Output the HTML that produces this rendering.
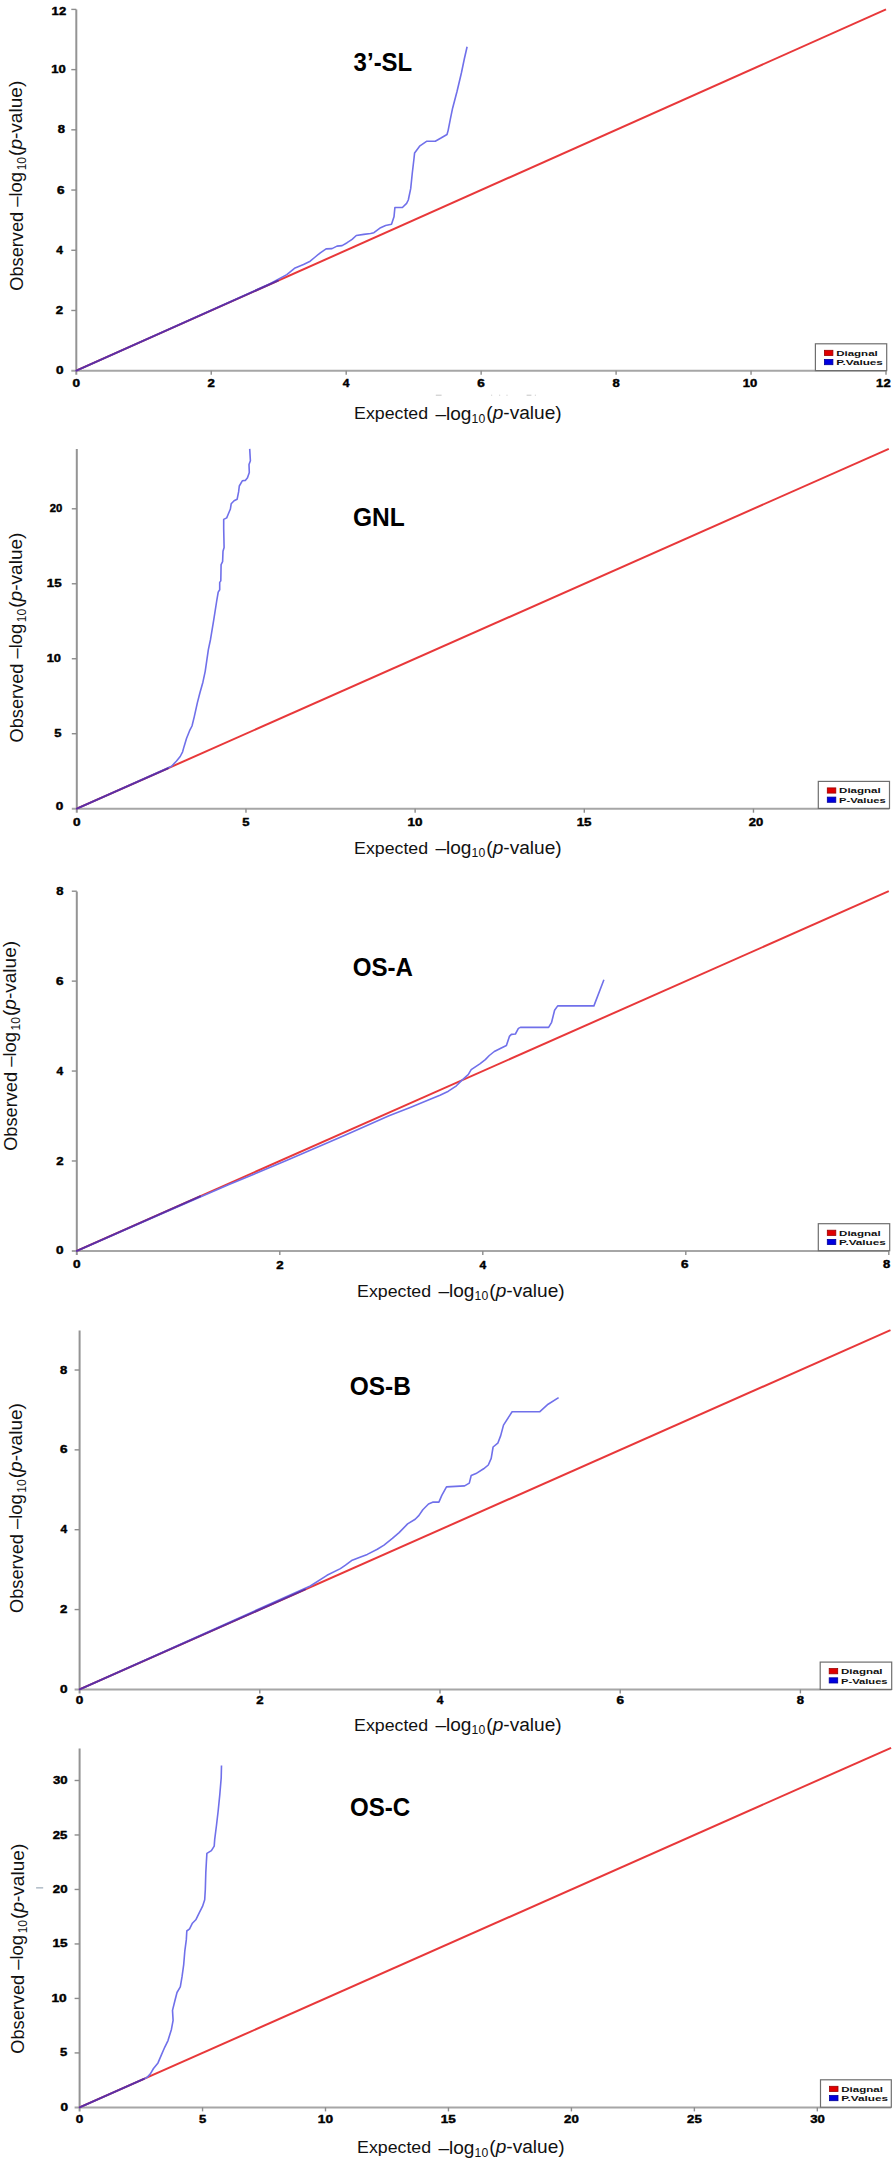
<!DOCTYPE html>
<html><head><meta charset="utf-8"><title>QQ plots</title>
<style>html,body{margin:0;padding:0;background:#fff;} svg{display:block;}</style>
</head><body>
<svg width="895" height="2158" viewBox="0 0 895 2158">
<line x1="76.3" y1="9.4" x2="76.3" y2="374.7" stroke="#949494" stroke-width="2"/>
<line x1="71.3" y1="370.7" x2="886.5" y2="370.7" stroke="#a6a6a6" stroke-width="2"/>
<text transform="matrix(0.13542 0 0 0.10282 72.51 387.10)" style="font-family:'Liberation Sans',sans-serif;font-weight:bold" font-size="100" fill="#000" stroke="#000" stroke-width="4" stroke-linejoin="round" >0</text>
<text transform="matrix(0.13542 0 0 0.10282 55.96 374.25)" style="font-family:'Liberation Sans',sans-serif;font-weight:bold" font-size="100" fill="#000" stroke="#000" stroke-width="4" stroke-linejoin="round" >0</text>
<line x1="211.25" y1="370.7" x2="211.25" y2="374.7" stroke="#8c8c8c" stroke-width="1.4"/>
<line x1="71.3" y1="310.48" x2="76.3" y2="310.48" stroke="#8c8c8c" stroke-width="1.4"/>
<text transform="matrix(0.13265 0 0 0.10429 207.60 387.20)" style="font-family:'Liberation Sans',sans-serif;font-weight:bold" font-size="100" fill="#000" stroke="#000" stroke-width="4" stroke-linejoin="round" >2</text>
<text transform="matrix(0.13265 0 0 0.10429 55.80 314.13)" style="font-family:'Liberation Sans',sans-serif;font-weight:bold" font-size="100" fill="#000" stroke="#000" stroke-width="4" stroke-linejoin="round" >2</text>
<line x1="346.20" y1="370.7" x2="346.20" y2="374.7" stroke="#8c8c8c" stroke-width="1.4"/>
<line x1="71.3" y1="250.27" x2="76.3" y2="250.27" stroke="#8c8c8c" stroke-width="1.4"/>
<text transform="matrix(0.12037 0 0 0.10580 342.83 387.20)" style="font-family:'Liberation Sans',sans-serif;font-weight:bold" font-size="100" fill="#000" stroke="#000" stroke-width="4" stroke-linejoin="round" >4</text>
<text transform="matrix(0.12037 0 0 0.10580 56.28 253.92)" style="font-family:'Liberation Sans',sans-serif;font-weight:bold" font-size="100" fill="#000" stroke="#000" stroke-width="4" stroke-linejoin="round" >4</text>
<line x1="481.15" y1="370.7" x2="481.15" y2="374.7" stroke="#8c8c8c" stroke-width="1.4"/>
<line x1="71.3" y1="190.05" x2="76.3" y2="190.05" stroke="#8c8c8c" stroke-width="1.4"/>
<text transform="matrix(0.13542 0 0 0.10282 477.36 387.10)" style="font-family:'Liberation Sans',sans-serif;font-weight:bold" font-size="100" fill="#000" stroke="#000" stroke-width="4" stroke-linejoin="round" >6</text>
<text transform="matrix(0.13542 0 0 0.10282 56.96 193.60)" style="font-family:'Liberation Sans',sans-serif;font-weight:bold" font-size="100" fill="#000" stroke="#000" stroke-width="4" stroke-linejoin="round" >6</text>
<line x1="616.10" y1="370.7" x2="616.10" y2="374.7" stroke="#8c8c8c" stroke-width="1.4"/>
<line x1="71.3" y1="129.83" x2="76.3" y2="129.83" stroke="#8c8c8c" stroke-width="1.4"/>
<text transform="matrix(0.13000 0 0 0.10282 612.46 387.10)" style="font-family:'Liberation Sans',sans-serif;font-weight:bold" font-size="100" fill="#000" stroke="#000" stroke-width="4" stroke-linejoin="round" >8</text>
<text transform="matrix(0.13000 0 0 0.10282 57.71 133.38)" style="font-family:'Liberation Sans',sans-serif;font-weight:bold" font-size="100" fill="#000" stroke="#000" stroke-width="4" stroke-linejoin="round" >8</text>
<line x1="751.05" y1="370.7" x2="751.05" y2="374.7" stroke="#8c8c8c" stroke-width="1.4"/>
<line x1="71.3" y1="69.62" x2="76.3" y2="69.62" stroke="#8c8c8c" stroke-width="1.4"/>
<text transform="matrix(0.13069 0 0 0.10282 742.82 387.10)" style="font-family:'Liberation Sans',sans-serif;font-weight:bold" font-size="100" fill="#000" stroke="#000" stroke-width="4" stroke-linejoin="round" >10</text>
<text transform="matrix(0.13069 0 0 0.10282 51.22 73.16)" style="font-family:'Liberation Sans',sans-serif;font-weight:bold" font-size="100" fill="#000" stroke="#000" stroke-width="4" stroke-linejoin="round" >10</text>
<line x1="886.00" y1="370.7" x2="886.00" y2="374.7" stroke="#8c8c8c" stroke-width="1.4"/>
<line x1="71.3" y1="9.40" x2="76.3" y2="9.40" stroke="#8c8c8c" stroke-width="1.4"/>
<text transform="matrix(0.13069 0 0 0.10429 876.12 387.20)" style="font-family:'Liberation Sans',sans-serif;font-weight:bold" font-size="100" fill="#000" stroke="#000" stroke-width="4" stroke-linejoin="round" >12</text>
<text transform="matrix(0.13069 0 0 0.10429 51.62 14.55)" style="font-family:'Liberation Sans',sans-serif;font-weight:bold" font-size="100" fill="#000" stroke="#000" stroke-width="4" stroke-linejoin="round" >12</text>
<line x1="76.3" y1="370.7" x2="886.0" y2="9.4" stroke="#e8383a" stroke-width="2"/>
<polyline points="76.3,370.7 270.0,283.8 286.8,274.6 295.1,267.9 303.5,264.5 310.2,261.2 315.2,257.0 320.3,252.8 326.1,248.9 332.0,248.6 337.0,246.1 342.1,245.6 347.1,242.7 352.1,239.4 356.3,235.5 363.8,234.4 370.6,233.5 373.9,232.7 380.6,227.7 385.6,225.5 391.5,224.3 394.0,216.8 394.9,207.5 402.4,207.5 406.6,203.4 408.3,200.0 410.7,188.7 412.3,173.0 414.0,158.5 414.6,152.9 419.6,146.2 426.9,141.2 435.3,141.2 441.4,137.8 447.0,134.5 448.1,130.6 450.3,119.4 452.6,108.2 457.0,91.5 461.5,72.5 464.3,59.0 467.1,46.8" fill="none" stroke="#7070ea" stroke-width="1.6" stroke-linejoin="round"/>
<line x1="76.3" y1="370.7" x2="278.0" y2="280.7" stroke="#5e2ea2" stroke-width="1.9" stroke-linecap="round"/>
<rect x="815.4" y="343.8" width="71.3" height="26.8" fill="#fff" stroke="#6e6e6e" stroke-width="1.2"/>
<rect x="824.4" y="350.3" width="8.5" height="5.2" fill="#e00000" stroke="#900" stroke-width="0.8"/>
<rect x="824.4" y="359.5" width="8.5" height="5.2" fill="#0000e0" stroke="#009" stroke-width="0.8"/>
<text transform="matrix(0.11527 0 0 0.07945 836.19 355.70)" style="font-family:'Liberation Sans',sans-serif;font-weight:bold" font-size="100" fill="#111" >Diagnal</text>
<text transform="matrix(0.11731 0 0 0.07534 836.18 365.20)" style="font-family:'Liberation Sans',sans-serif;font-weight:bold" font-size="100" fill="#111" >P.Values</text>
<text transform="matrix(0.24000 0 0 0.26197 353.62 71.14)" style="font-family:'Liberation Sans',sans-serif;font-weight:bold" font-size="100" fill="#000" >3’-SL</text>
<text transform="matrix(0.17761 0 0 0.17128 354.08 419.20)" style="font-family:'Liberation Sans',sans-serif" font-size="100" fill="#111" >Expected</text>
<text transform="matrix(0.19071 0 0 0.18191 435.40 419.68)" style="font-family:'Liberation Sans',sans-serif" font-size="100" fill="#111" >–log</text>
<text transform="matrix(0.12222 0 0 0.12535 471.62 422.67)" style="font-family:'Liberation Sans',sans-serif" font-size="100" fill="#111" >10</text>
<text transform="matrix(0.19110 0 0 0.17447 486.35 419.24)" style="font-family:'Liberation Sans',sans-serif" font-size="100" fill="#111" >(<tspan font-style="italic">p</tspan>-value)</text>
<text transform="matrix(0 -0.18223 0.19054 0 22.71 290.71)" style="font-family:'Liberation Sans',sans-serif" font-size="100" fill="#111">Observed</text>
<text transform="matrix(0 -0.18415 0.17872 0 21.85 206.70)" style="font-family:'Liberation Sans',sans-serif" font-size="100" fill="#111">–log</text>
<text transform="matrix(0 -0.12020 0.13239 0 25.87 170.36)" style="font-family:'Liberation Sans',sans-serif" font-size="100" fill="#111">10</text>
<text transform="matrix(0 -0.19058 0.18936 0 22.42 155.94)" style="font-family:'Liberation Sans',sans-serif" font-size="100" fill="#111">(<tspan font-style="italic">p</tspan>-value)</text>
<line x1="76.8" y1="449" x2="76.8" y2="812.7" stroke="#949494" stroke-width="2"/>
<line x1="71.8" y1="808.7" x2="889.5" y2="808.7" stroke="#a6a6a6" stroke-width="2"/>
<text transform="matrix(0.13542 0 0 0.10282 73.01 826.40)" style="font-family:'Liberation Sans',sans-serif;font-weight:bold" font-size="100" fill="#000" stroke="#000" stroke-width="4" stroke-linejoin="round" >0</text>
<text transform="matrix(0.13542 0 0 0.10282 55.66 809.85)" style="font-family:'Liberation Sans',sans-serif;font-weight:bold" font-size="100" fill="#000" stroke="#000" stroke-width="4" stroke-linejoin="round" >0</text>
<line x1="245.97" y1="808.7" x2="245.97" y2="812.7" stroke="#8c8c8c" stroke-width="1.4"/>
<line x1="71.8" y1="733.72" x2="76.8" y2="733.72" stroke="#8c8c8c" stroke-width="1.4"/>
<text transform="matrix(0.13000 0 0 0.10429 242.33 826.40)" style="font-family:'Liberation Sans',sans-serif;font-weight:bold" font-size="100" fill="#000" stroke="#000" stroke-width="4" stroke-linejoin="round" >5</text>
<text transform="matrix(0.13000 0 0 0.10429 54.31 737.27)" style="font-family:'Liberation Sans',sans-serif;font-weight:bold" font-size="100" fill="#000" stroke="#000" stroke-width="4" stroke-linejoin="round" >5</text>
<line x1="415.13" y1="808.7" x2="415.13" y2="812.7" stroke="#8c8c8c" stroke-width="1.4"/>
<line x1="71.8" y1="658.74" x2="76.8" y2="658.74" stroke="#8c8c8c" stroke-width="1.4"/>
<text transform="matrix(0.13465 0 0 0.10282 407.53 826.40)" style="font-family:'Liberation Sans',sans-serif;font-weight:bold" font-size="100" fill="#000" stroke="#000" stroke-width="4" stroke-linejoin="round" >10</text>
<text transform="matrix(0.12871 0 0 0.10282 46.73 662.29)" style="font-family:'Liberation Sans',sans-serif;font-weight:bold" font-size="100" fill="#000" stroke="#000" stroke-width="4" stroke-linejoin="round" >10</text>
<line x1="584.30" y1="808.7" x2="584.30" y2="812.7" stroke="#8c8c8c" stroke-width="1.4"/>
<line x1="71.8" y1="583.76" x2="76.8" y2="583.76" stroke="#8c8c8c" stroke-width="1.4"/>
<text transform="matrix(0.13333 0 0 0.10429 576.70 826.40)" style="font-family:'Liberation Sans',sans-serif;font-weight:bold" font-size="100" fill="#000" stroke="#000" stroke-width="4" stroke-linejoin="round" >15</text>
<text transform="matrix(0.13333 0 0 0.10429 46.80 587.31)" style="font-family:'Liberation Sans',sans-serif;font-weight:bold" font-size="100" fill="#000" stroke="#000" stroke-width="4" stroke-linejoin="round" >15</text>
<line x1="753.47" y1="808.7" x2="753.47" y2="812.7" stroke="#8c8c8c" stroke-width="1.4"/>
<line x1="71.8" y1="508.78" x2="76.8" y2="508.78" stroke="#8c8c8c" stroke-width="1.4"/>
<text transform="matrix(0.13077 0 0 0.10282 748.71 826.40)" style="font-family:'Liberation Sans',sans-serif;font-weight:bold" font-size="100" fill="#000" stroke="#000" stroke-width="4" stroke-linejoin="round" >20</text>
<text transform="matrix(0.11346 0 0 0.10282 49.76 512.33)" style="font-family:'Liberation Sans',sans-serif;font-weight:bold" font-size="100" fill="#000" stroke="#000" stroke-width="4" stroke-linejoin="round" >20</text>
<line x1="76.8" y1="808.7" x2="888.8" y2="448.8" stroke="#e8383a" stroke-width="2"/>
<polyline points="76.8,808.7 171.6,766.2 176.3,761.2 180.2,756.5 182.6,751.8 184.1,746.4 186.5,738.5 189.6,730.7 192.0,726.0 194.3,716.6 197.4,702.6 199.8,693.2 202.9,682.2 205.2,671.3 206.8,660.3 208.4,649.4 210.4,640.0 210.8,637.6 213.7,620.1 216.7,601.0 218.2,592.1 219.7,589.8 219.7,582.4 220.8,580.9 221.1,564.6 222.6,561.7 223.0,551.3 224.1,547.6 223.7,529.0 223.7,519.4 226.7,517.9 228.2,514.2 230.4,509.0 231.2,503.8 234.1,500.8 237.1,499.3 238.6,491.9 239.3,486.0 242.3,480.8 245.3,480.4 247.5,477.8 249.3,472.6 249.0,464.5 250.4,460.8 249.7,448.9" fill="none" stroke="#7070ea" stroke-width="1.6" stroke-linejoin="round"/>
<line x1="76.8" y1="808.7" x2="168.0" y2="768.3" stroke="#5e2ea2" stroke-width="1.9" stroke-linecap="round"/>
<rect x="818.3" y="781.4" width="71.2" height="27.0" fill="#fff" stroke="#6e6e6e" stroke-width="1.2"/>
<rect x="827.3" y="787.9" width="8.5" height="5.2" fill="#e00000" stroke="#900" stroke-width="0.8"/>
<rect x="827.3" y="797.1" width="8.5" height="5.2" fill="#0000e0" stroke="#009" stroke-width="0.8"/>
<text transform="matrix(0.11527 0 0 0.07945 839.09 793.30)" style="font-family:'Liberation Sans',sans-serif;font-weight:bold" font-size="100" fill="#111" >Diagnal</text>
<text transform="matrix(0.11182 0 0 0.07534 839.12 802.80)" style="font-family:'Liberation Sans',sans-serif;font-weight:bold" font-size="100" fill="#111" >P-Values</text>
<text transform="matrix(0.24559 0 0 0.25915 353.02 525.94)" style="font-family:'Liberation Sans',sans-serif;font-weight:bold" font-size="100" fill="#000" >GNL</text>
<text transform="matrix(0.17761 0 0 0.17128 354.08 854.00)" style="font-family:'Liberation Sans',sans-serif" font-size="100" fill="#111" >Expected</text>
<text transform="matrix(0.19071 0 0 0.18191 435.40 854.48)" style="font-family:'Liberation Sans',sans-serif" font-size="100" fill="#111" >–log</text>
<text transform="matrix(0.12222 0 0 0.12535 471.62 857.47)" style="font-family:'Liberation Sans',sans-serif" font-size="100" fill="#111" >10</text>
<text transform="matrix(0.19110 0 0 0.17447 486.35 854.04)" style="font-family:'Liberation Sans',sans-serif" font-size="100" fill="#111" >(<tspan font-style="italic">p</tspan>-value)</text>
<text transform="matrix(0 -0.18223 0.19054 0 22.71 742.51)" style="font-family:'Liberation Sans',sans-serif" font-size="100" fill="#111">Observed</text>
<text transform="matrix(0 -0.18415 0.17872 0 21.85 658.50)" style="font-family:'Liberation Sans',sans-serif" font-size="100" fill="#111">–log</text>
<text transform="matrix(0 -0.12020 0.13239 0 25.87 622.16)" style="font-family:'Liberation Sans',sans-serif" font-size="100" fill="#111">10</text>
<text transform="matrix(0 -0.19058 0.18936 0 22.42 607.74)" style="font-family:'Liberation Sans',sans-serif" font-size="100" fill="#111">(<tspan font-style="italic">p</tspan>-value)</text>
<line x1="76.8" y1="891.4" x2="76.8" y2="1254.9" stroke="#949494" stroke-width="2"/>
<line x1="71.8" y1="1250.9" x2="888.9" y2="1250.9" stroke="#a6a6a6" stroke-width="2"/>
<text transform="matrix(0.13542 0 0 0.10282 73.01 1268.40)" style="font-family:'Liberation Sans',sans-serif;font-weight:bold" font-size="100" fill="#000" stroke="#000" stroke-width="4" stroke-linejoin="round" >0</text>
<text transform="matrix(0.13542 0 0 0.10282 56.06 1254.45)" style="font-family:'Liberation Sans',sans-serif;font-weight:bold" font-size="100" fill="#000" stroke="#000" stroke-width="4" stroke-linejoin="round" >0</text>
<line x1="279.80" y1="1250.9" x2="279.80" y2="1254.9" stroke="#8c8c8c" stroke-width="1.4"/>
<line x1="71.8" y1="1160.98" x2="76.8" y2="1160.98" stroke="#8c8c8c" stroke-width="1.4"/>
<text transform="matrix(0.13265 0 0 0.10429 276.15 1268.50)" style="font-family:'Liberation Sans',sans-serif;font-weight:bold" font-size="100" fill="#000" stroke="#000" stroke-width="4" stroke-linejoin="round" >2</text>
<text transform="matrix(0.13265 0 0 0.10429 56.20 1164.62)" style="font-family:'Liberation Sans',sans-serif;font-weight:bold" font-size="100" fill="#000" stroke="#000" stroke-width="4" stroke-linejoin="round" >2</text>
<line x1="482.80" y1="1250.9" x2="482.80" y2="1254.9" stroke="#8c8c8c" stroke-width="1.4"/>
<line x1="71.8" y1="1071.05" x2="76.8" y2="1071.05" stroke="#8c8c8c" stroke-width="1.4"/>
<text transform="matrix(0.12037 0 0 0.10580 479.43 1268.50)" style="font-family:'Liberation Sans',sans-serif;font-weight:bold" font-size="100" fill="#000" stroke="#000" stroke-width="4" stroke-linejoin="round" >4</text>
<text transform="matrix(0.12037 0 0 0.10580 56.48 1074.70)" style="font-family:'Liberation Sans',sans-serif;font-weight:bold" font-size="100" fill="#000" stroke="#000" stroke-width="4" stroke-linejoin="round" >4</text>
<line x1="685.80" y1="1250.9" x2="685.80" y2="1254.9" stroke="#8c8c8c" stroke-width="1.4"/>
<line x1="71.8" y1="981.12" x2="76.8" y2="981.12" stroke="#8c8c8c" stroke-width="1.4"/>
<text transform="matrix(0.13542 0 0 0.10282 681.11 1268.40)" style="font-family:'Liberation Sans',sans-serif;font-weight:bold" font-size="100" fill="#000" stroke="#000" stroke-width="4" stroke-linejoin="round" >6</text>
<text transform="matrix(0.13542 0 0 0.10282 56.06 984.67)" style="font-family:'Liberation Sans',sans-serif;font-weight:bold" font-size="100" fill="#000" stroke="#000" stroke-width="4" stroke-linejoin="round" >6</text>
<line x1="888.80" y1="1250.9" x2="888.80" y2="1254.9" stroke="#8c8c8c" stroke-width="1.4"/>
<line x1="71.8" y1="891.20" x2="76.8" y2="891.20" stroke="#8c8c8c" stroke-width="1.4"/>
<text transform="matrix(0.13000 0 0 0.10282 882.96 1268.40)" style="font-family:'Liberation Sans',sans-serif;font-weight:bold" font-size="100" fill="#000" stroke="#000" stroke-width="4" stroke-linejoin="round" >8</text>
<text transform="matrix(0.13000 0 0 0.10282 56.21 894.75)" style="font-family:'Liberation Sans',sans-serif;font-weight:bold" font-size="100" fill="#000" stroke="#000" stroke-width="4" stroke-linejoin="round" >8</text>
<line x1="76.8" y1="1250.9" x2="888.8" y2="891.2" stroke="#e8383a" stroke-width="2"/>
<polyline points="76.8,1250.9 160.0,1214.6 229.0,1184.6 287.0,1160.3 345.0,1135.2 389.0,1115.8 410.2,1107.4 432.0,1098.6 440.0,1095.2 448.4,1091.2 456.4,1085.8 461.5,1080.6 468.2,1074.6 471.2,1069.6 480.2,1063.6 485.3,1059.6 489.3,1055.5 494.3,1051.5 500.3,1048.5 506.4,1045.5 509.4,1036.4 511.4,1034.4 515.4,1034.0 518.4,1028.4 520.4,1027.4 548.6,1027.4 551.6,1022.3 554.6,1010.3 557.7,1005.9 593.9,1005.9 603.9,979.7" fill="none" stroke="#7070ea" stroke-width="1.6" stroke-linejoin="round"/>
<line x1="76.8" y1="1250.9" x2="200.0" y2="1196.3" stroke="#5e2ea2" stroke-width="1.9" stroke-linecap="round"/>
<rect x="818.3" y="1223.7" width="71.4" height="27.0" fill="#fff" stroke="#6e6e6e" stroke-width="1.2"/>
<rect x="827.3" y="1230.2" width="8.5" height="5.2" fill="#e00000" stroke="#900" stroke-width="0.8"/>
<rect x="827.3" y="1239.4" width="8.5" height="5.2" fill="#0000e0" stroke="#009" stroke-width="0.8"/>
<text transform="matrix(0.11527 0 0 0.07945 839.09 1235.60)" style="font-family:'Liberation Sans',sans-serif;font-weight:bold" font-size="100" fill="#111" >Diagnal</text>
<text transform="matrix(0.11731 0 0 0.07534 839.08 1245.10)" style="font-family:'Liberation Sans',sans-serif;font-weight:bold" font-size="100" fill="#111" >P.Values</text>
<text transform="matrix(0.24115 0 0 0.26197 352.64 975.94)" style="font-family:'Liberation Sans',sans-serif;font-weight:bold" font-size="100" fill="#000" >OS-A</text>
<text transform="matrix(0.17761 0 0 0.17128 357.08 1296.60)" style="font-family:'Liberation Sans',sans-serif" font-size="100" fill="#111" >Expected</text>
<text transform="matrix(0.19071 0 0 0.18191 438.40 1297.08)" style="font-family:'Liberation Sans',sans-serif" font-size="100" fill="#111" >–log</text>
<text transform="matrix(0.12222 0 0 0.12535 474.62 1300.07)" style="font-family:'Liberation Sans',sans-serif" font-size="100" fill="#111" >10</text>
<text transform="matrix(0.19110 0 0 0.17447 489.35 1296.64)" style="font-family:'Liberation Sans',sans-serif" font-size="100" fill="#111" >(<tspan font-style="italic">p</tspan>-value)</text>
<text transform="matrix(0 -0.18223 0.19054 0 16.61 1150.81)" style="font-family:'Liberation Sans',sans-serif" font-size="100" fill="#111">Observed</text>
<text transform="matrix(0 -0.18415 0.17872 0 15.75 1066.80)" style="font-family:'Liberation Sans',sans-serif" font-size="100" fill="#111">–log</text>
<text transform="matrix(0 -0.12020 0.13239 0 19.77 1030.46)" style="font-family:'Liberation Sans',sans-serif" font-size="100" fill="#111">10</text>
<text transform="matrix(0 -0.19058 0.18936 0 16.32 1016.04)" style="font-family:'Liberation Sans',sans-serif" font-size="100" fill="#111">(<tspan font-style="italic">p</tspan>-value)</text>
<line x1="79.6" y1="1330.6" x2="79.6" y2="1693.4" stroke="#949494" stroke-width="2"/>
<line x1="74.6" y1="1689.4" x2="891.7" y2="1689.4" stroke="#a6a6a6" stroke-width="2"/>
<text transform="matrix(0.13542 0 0 0.10282 75.81 1704.20)" style="font-family:'Liberation Sans',sans-serif;font-weight:bold" font-size="100" fill="#000" stroke="#000" stroke-width="4" stroke-linejoin="round" >0</text>
<text transform="matrix(0.13542 0 0 0.10282 59.96 1692.95)" style="font-family:'Liberation Sans',sans-serif;font-weight:bold" font-size="100" fill="#000" stroke="#000" stroke-width="4" stroke-linejoin="round" >0</text>
<line x1="259.80" y1="1689.4" x2="259.80" y2="1693.4" stroke="#8c8c8c" stroke-width="1.4"/>
<line x1="74.6" y1="1609.56" x2="79.6" y2="1609.56" stroke="#8c8c8c" stroke-width="1.4"/>
<text transform="matrix(0.13265 0 0 0.10429 256.15 1704.30)" style="font-family:'Liberation Sans',sans-serif;font-weight:bold" font-size="100" fill="#000" stroke="#000" stroke-width="4" stroke-linejoin="round" >2</text>
<text transform="matrix(0.13265 0 0 0.10429 60.10 1613.21)" style="font-family:'Liberation Sans',sans-serif;font-weight:bold" font-size="100" fill="#000" stroke="#000" stroke-width="4" stroke-linejoin="round" >2</text>
<line x1="440.00" y1="1689.4" x2="440.00" y2="1693.4" stroke="#8c8c8c" stroke-width="1.4"/>
<line x1="74.6" y1="1529.71" x2="79.6" y2="1529.71" stroke="#8c8c8c" stroke-width="1.4"/>
<text transform="matrix(0.12037 0 0 0.10580 436.63 1704.30)" style="font-family:'Liberation Sans',sans-serif;font-weight:bold" font-size="100" fill="#000" stroke="#000" stroke-width="4" stroke-linejoin="round" >4</text>
<text transform="matrix(0.12037 0 0 0.10580 60.38 1533.36)" style="font-family:'Liberation Sans',sans-serif;font-weight:bold" font-size="100" fill="#000" stroke="#000" stroke-width="4" stroke-linejoin="round" >4</text>
<line x1="620.20" y1="1689.4" x2="620.20" y2="1693.4" stroke="#8c8c8c" stroke-width="1.4"/>
<line x1="74.6" y1="1449.87" x2="79.6" y2="1449.87" stroke="#8c8c8c" stroke-width="1.4"/>
<text transform="matrix(0.13542 0 0 0.10282 616.41 1704.20)" style="font-family:'Liberation Sans',sans-serif;font-weight:bold" font-size="100" fill="#000" stroke="#000" stroke-width="4" stroke-linejoin="round" >6</text>
<text transform="matrix(0.13542 0 0 0.10282 59.96 1453.41)" style="font-family:'Liberation Sans',sans-serif;font-weight:bold" font-size="100" fill="#000" stroke="#000" stroke-width="4" stroke-linejoin="round" >6</text>
<line x1="800.40" y1="1689.4" x2="800.40" y2="1693.4" stroke="#8c8c8c" stroke-width="1.4"/>
<line x1="74.6" y1="1370.02" x2="79.6" y2="1370.02" stroke="#8c8c8c" stroke-width="1.4"/>
<text transform="matrix(0.13000 0 0 0.10282 796.76 1704.20)" style="font-family:'Liberation Sans',sans-serif;font-weight:bold" font-size="100" fill="#000" stroke="#000" stroke-width="4" stroke-linejoin="round" >8</text>
<text transform="matrix(0.13000 0 0 0.10282 60.11 1373.57)" style="font-family:'Liberation Sans',sans-serif;font-weight:bold" font-size="100" fill="#000" stroke="#000" stroke-width="4" stroke-linejoin="round" >8</text>
<line x1="79.6" y1="1689.4" x2="890.5" y2="1330.1" stroke="#e8383a" stroke-width="2"/>
<polyline points="79.6,1689.4 310.3,1586.0 327.0,1575.3 340.4,1568.6 345.5,1565.2 352.2,1560.2 360.6,1556.9 367.3,1554.4 377.3,1549.3 384.0,1545.1 392.4,1538.4 399.1,1532.6 407.6,1523.9 415.2,1519.2 419.0,1515.4 422.8,1509.7 428.5,1504.0 433.2,1502.1 438.9,1502.1 441.8,1495.4 446.5,1486.9 464.6,1485.9 469.3,1483.1 471.2,1475.5 476.0,1473.6 483.6,1468.8 488.3,1465.0 491.2,1458.4 493.1,1447.0 497.8,1443.2 500.7,1435.6 503.5,1425.1 512.1,1411.8 539.6,1411.8 548.1,1404.2 558.6,1397.6" fill="none" stroke="#7070ea" stroke-width="1.6" stroke-linejoin="round"/>
<line x1="79.6" y1="1689.4" x2="305.0" y2="1589.5" stroke="#5e2ea2" stroke-width="1.9" stroke-linecap="round"/>
<rect x="820.2" y="1662.1" width="71.5" height="27.3" fill="#fff" stroke="#6e6e6e" stroke-width="1.2"/>
<rect x="829.2" y="1668.6" width="8.5" height="5.2" fill="#e00000" stroke="#900" stroke-width="0.8"/>
<rect x="829.2" y="1677.8" width="8.5" height="5.2" fill="#0000e0" stroke="#009" stroke-width="0.8"/>
<text transform="matrix(0.11527 0 0 0.07945 840.99 1674.00)" style="font-family:'Liberation Sans',sans-serif;font-weight:bold" font-size="100" fill="#111" >Diagnal</text>
<text transform="matrix(0.11182 0 0 0.07534 841.02 1683.50)" style="font-family:'Liberation Sans',sans-serif;font-weight:bold" font-size="100" fill="#111" >P-Values</text>
<text transform="matrix(0.24504 0 0 0.25775 349.72 1395.04)" style="font-family:'Liberation Sans',sans-serif;font-weight:bold" font-size="100" fill="#000" >OS-B</text>
<text transform="matrix(0.17761 0 0 0.17128 354.08 1730.90)" style="font-family:'Liberation Sans',sans-serif" font-size="100" fill="#111" >Expected</text>
<text transform="matrix(0.19071 0 0 0.18191 435.40 1731.38)" style="font-family:'Liberation Sans',sans-serif" font-size="100" fill="#111" >–log</text>
<text transform="matrix(0.12222 0 0 0.12535 471.62 1734.37)" style="font-family:'Liberation Sans',sans-serif" font-size="100" fill="#111" >10</text>
<text transform="matrix(0.19110 0 0 0.17447 486.35 1730.94)" style="font-family:'Liberation Sans',sans-serif" font-size="100" fill="#111" >(<tspan font-style="italic">p</tspan>-value)</text>
<text transform="matrix(0 -0.18223 0.19054 0 22.71 1613.01)" style="font-family:'Liberation Sans',sans-serif" font-size="100" fill="#111">Observed</text>
<text transform="matrix(0 -0.18415 0.17872 0 21.85 1529.00)" style="font-family:'Liberation Sans',sans-serif" font-size="100" fill="#111">–log</text>
<text transform="matrix(0 -0.12020 0.13239 0 25.87 1492.66)" style="font-family:'Liberation Sans',sans-serif" font-size="100" fill="#111">10</text>
<text transform="matrix(0 -0.19058 0.18936 0 22.42 1478.24)" style="font-family:'Liberation Sans',sans-serif" font-size="100" fill="#111">(<tspan font-style="italic">p</tspan>-value)</text>
<line x1="79.6" y1="1748.5" x2="79.6" y2="2111.4" stroke="#949494" stroke-width="2"/>
<line x1="74.6" y1="2107.4" x2="891.3" y2="2107.4" stroke="#a6a6a6" stroke-width="2"/>
<text transform="matrix(0.13542 0 0 0.10282 75.81 2122.70)" style="font-family:'Liberation Sans',sans-serif;font-weight:bold" font-size="100" fill="#000" stroke="#000" stroke-width="4" stroke-linejoin="round" >0</text>
<text transform="matrix(0.13542 0 0 0.10282 60.56 2110.95)" style="font-family:'Liberation Sans',sans-serif;font-weight:bold" font-size="100" fill="#000" stroke="#000" stroke-width="4" stroke-linejoin="round" >0</text>
<line x1="202.55" y1="2107.4" x2="202.55" y2="2111.4" stroke="#8c8c8c" stroke-width="1.4"/>
<line x1="74.6" y1="2052.92" x2="79.6" y2="2052.92" stroke="#8c8c8c" stroke-width="1.4"/>
<text transform="matrix(0.13000 0 0 0.10429 198.91 2122.70)" style="font-family:'Liberation Sans',sans-serif;font-weight:bold" font-size="100" fill="#000" stroke="#000" stroke-width="4" stroke-linejoin="round" >5</text>
<text transform="matrix(0.13000 0 0 0.10429 60.11 2056.46)" style="font-family:'Liberation Sans',sans-serif;font-weight:bold" font-size="100" fill="#000" stroke="#000" stroke-width="4" stroke-linejoin="round" >5</text>
<line x1="325.51" y1="2107.4" x2="325.51" y2="2111.4" stroke="#8c8c8c" stroke-width="1.4"/>
<line x1="74.6" y1="1998.43" x2="79.6" y2="1998.43" stroke="#8c8c8c" stroke-width="1.4"/>
<text transform="matrix(0.13663 0 0 0.10282 317.79 2122.70)" style="font-family:'Liberation Sans',sans-serif;font-weight:bold" font-size="100" fill="#000" stroke="#000" stroke-width="4" stroke-linejoin="round" >10</text>
<text transform="matrix(0.13663 0 0 0.10282 51.38 2001.98)" style="font-family:'Liberation Sans',sans-serif;font-weight:bold" font-size="100" fill="#000" stroke="#000" stroke-width="4" stroke-linejoin="round" >10</text>
<line x1="448.46" y1="2107.4" x2="448.46" y2="2111.4" stroke="#8c8c8c" stroke-width="1.4"/>
<line x1="74.6" y1="1943.95" x2="79.6" y2="1943.95" stroke="#8c8c8c" stroke-width="1.4"/>
<text transform="matrix(0.13529 0 0 0.10429 440.75 2122.70)" style="font-family:'Liberation Sans',sans-serif;font-weight:bold" font-size="100" fill="#000" stroke="#000" stroke-width="4" stroke-linejoin="round" >15</text>
<text transform="matrix(0.13529 0 0 0.10429 52.39 1947.49)" style="font-family:'Liberation Sans',sans-serif;font-weight:bold" font-size="100" fill="#000" stroke="#000" stroke-width="4" stroke-linejoin="round" >15</text>
<line x1="571.42" y1="2107.4" x2="571.42" y2="2111.4" stroke="#8c8c8c" stroke-width="1.4"/>
<line x1="74.6" y1="1889.46" x2="79.6" y2="1889.46" stroke="#8c8c8c" stroke-width="1.4"/>
<text transform="matrix(0.13269 0 0 0.10282 564.12 2122.70)" style="font-family:'Liberation Sans',sans-serif;font-weight:bold" font-size="100" fill="#000" stroke="#000" stroke-width="4" stroke-linejoin="round" >20</text>
<text transform="matrix(0.13269 0 0 0.10282 52.80 1893.01)" style="font-family:'Liberation Sans',sans-serif;font-weight:bold" font-size="100" fill="#000" stroke="#000" stroke-width="4" stroke-linejoin="round" >20</text>
<line x1="694.37" y1="2107.4" x2="694.37" y2="2111.4" stroke="#8c8c8c" stroke-width="1.4"/>
<line x1="74.6" y1="1834.98" x2="79.6" y2="1834.98" stroke="#8c8c8c" stroke-width="1.4"/>
<text transform="matrix(0.13143 0 0 0.10282 687.08 2122.70)" style="font-family:'Liberation Sans',sans-serif;font-weight:bold" font-size="100" fill="#000" stroke="#000" stroke-width="4" stroke-linejoin="round" >25</text>
<text transform="matrix(0.13143 0 0 0.10282 52.81 1838.52)" style="font-family:'Liberation Sans',sans-serif;font-weight:bold" font-size="100" fill="#000" stroke="#000" stroke-width="4" stroke-linejoin="round" >25</text>
<line x1="817.33" y1="2107.4" x2="817.33" y2="2111.4" stroke="#8c8c8c" stroke-width="1.4"/>
<line x1="74.6" y1="1780.49" x2="79.6" y2="1780.49" stroke="#8c8c8c" stroke-width="1.4"/>
<text transform="matrix(0.13143 0 0 0.10282 810.16 2122.70)" style="font-family:'Liberation Sans',sans-serif;font-weight:bold" font-size="100" fill="#000" stroke="#000" stroke-width="4" stroke-linejoin="round" >30</text>
<text transform="matrix(0.13143 0 0 0.10282 52.94 1784.04)" style="font-family:'Liberation Sans',sans-serif;font-weight:bold" font-size="100" fill="#000" stroke="#000" stroke-width="4" stroke-linejoin="round" >30</text>
<line x1="79.6" y1="2107.4" x2="891.1" y2="1747.8" stroke="#e8383a" stroke-width="2"/>
<polyline points="79.6,2107.4 146.8,2077.6 150.2,2074.1 153.5,2068.5 158.0,2062.9 161.3,2055.1 164.7,2047.3 168.0,2040.6 171.4,2029.4 173.1,2020.4 172.5,2010.4 174.7,2001.5 177.0,1992.5 180.3,1986.9 182.0,1976.9 183.7,1964.6 184.8,1951.2 186.3,1939.9 186.8,1931.0 189.6,1928.8 192.4,1923.2 195.8,1919.8 199.1,1913.1 202.5,1906.4 204.7,1899.7 205.3,1889.7 205.8,1872.9 206.4,1861.7 206.9,1853.4 211.4,1850.6 214.2,1846.1 214.7,1839.4 216.4,1826.0 218.1,1811.5 219.8,1794.7 221.2,1777.9 221.5,1765.6" fill="none" stroke="#7070ea" stroke-width="1.6" stroke-linejoin="round"/>
<line x1="79.6" y1="2107.4" x2="144.0" y2="2078.9" stroke="#5e2ea2" stroke-width="1.9" stroke-linecap="round"/>
<rect x="820.5" y="2079.8" width="70.8" height="27.4" fill="#fff" stroke="#6e6e6e" stroke-width="1.2"/>
<rect x="829.5" y="2086.3" width="8.5" height="5.2" fill="#e00000" stroke="#900" stroke-width="0.8"/>
<rect x="829.5" y="2095.5" width="8.5" height="5.2" fill="#0000e0" stroke="#009" stroke-width="0.8"/>
<text transform="matrix(0.11527 0 0 0.07945 841.29 2091.70)" style="font-family:'Liberation Sans',sans-serif;font-weight:bold" font-size="100" fill="#111" >Diagnal</text>
<text transform="matrix(0.11731 0 0 0.07534 841.28 2101.20)" style="font-family:'Liberation Sans',sans-serif;font-weight:bold" font-size="100" fill="#111" >P.Values</text>
<text transform="matrix(0.24115 0 0 0.25493 349.94 1815.65)" style="font-family:'Liberation Sans',sans-serif;font-weight:bold" font-size="100" fill="#000" >OS-C</text>
<text transform="matrix(0.17761 0 0 0.17128 357.08 2153.20)" style="font-family:'Liberation Sans',sans-serif" font-size="100" fill="#111" >Expected</text>
<text transform="matrix(0.19071 0 0 0.18191 438.40 2153.68)" style="font-family:'Liberation Sans',sans-serif" font-size="100" fill="#111" >–log</text>
<text transform="matrix(0.12222 0 0 0.12535 474.62 2156.67)" style="font-family:'Liberation Sans',sans-serif" font-size="100" fill="#111" >10</text>
<text transform="matrix(0.19110 0 0 0.17447 489.35 2153.24)" style="font-family:'Liberation Sans',sans-serif" font-size="100" fill="#111" >(<tspan font-style="italic">p</tspan>-value)</text>
<text transform="matrix(0 -0.18223 0.19054 0 24.21 2053.71)" style="font-family:'Liberation Sans',sans-serif" font-size="100" fill="#111">Observed</text>
<text transform="matrix(0 -0.18415 0.17872 0 23.35 1969.70)" style="font-family:'Liberation Sans',sans-serif" font-size="100" fill="#111">–log</text>
<text transform="matrix(0 -0.12020 0.13239 0 27.37 1933.36)" style="font-family:'Liberation Sans',sans-serif" font-size="100" fill="#111">10</text>
<text transform="matrix(0 -0.19058 0.18936 0 23.92 1918.94)" style="font-family:'Liberation Sans',sans-serif" font-size="100" fill="#111">(<tspan font-style="italic">p</tspan>-value)</text>
<line x1="36.1" y1="1887.9" x2="43.2" y2="1887.9" stroke="#8899aa" stroke-width="1"/>
<line x1="435.8" y1="395.2" x2="441.6" y2="395.2" stroke="#c4c4c4" stroke-width="1"/>
<line x1="526.6" y1="395.2" x2="531.4" y2="395.2" stroke="#c4c4c4" stroke-width="1"/>
<rect x="491" y="394.7" width="1.2" height="1" fill="#d0d0d0"/>
<rect x="499" y="394.7" width="1.2" height="1" fill="#d0d0d0"/>
<rect x="506.4" y="394.7" width="1.2" height="1" fill="#d0d0d0"/>
<rect x="534.8" y="394.7" width="1.2" height="1" fill="#d0d0d0"/>
</svg>
</body></html>
